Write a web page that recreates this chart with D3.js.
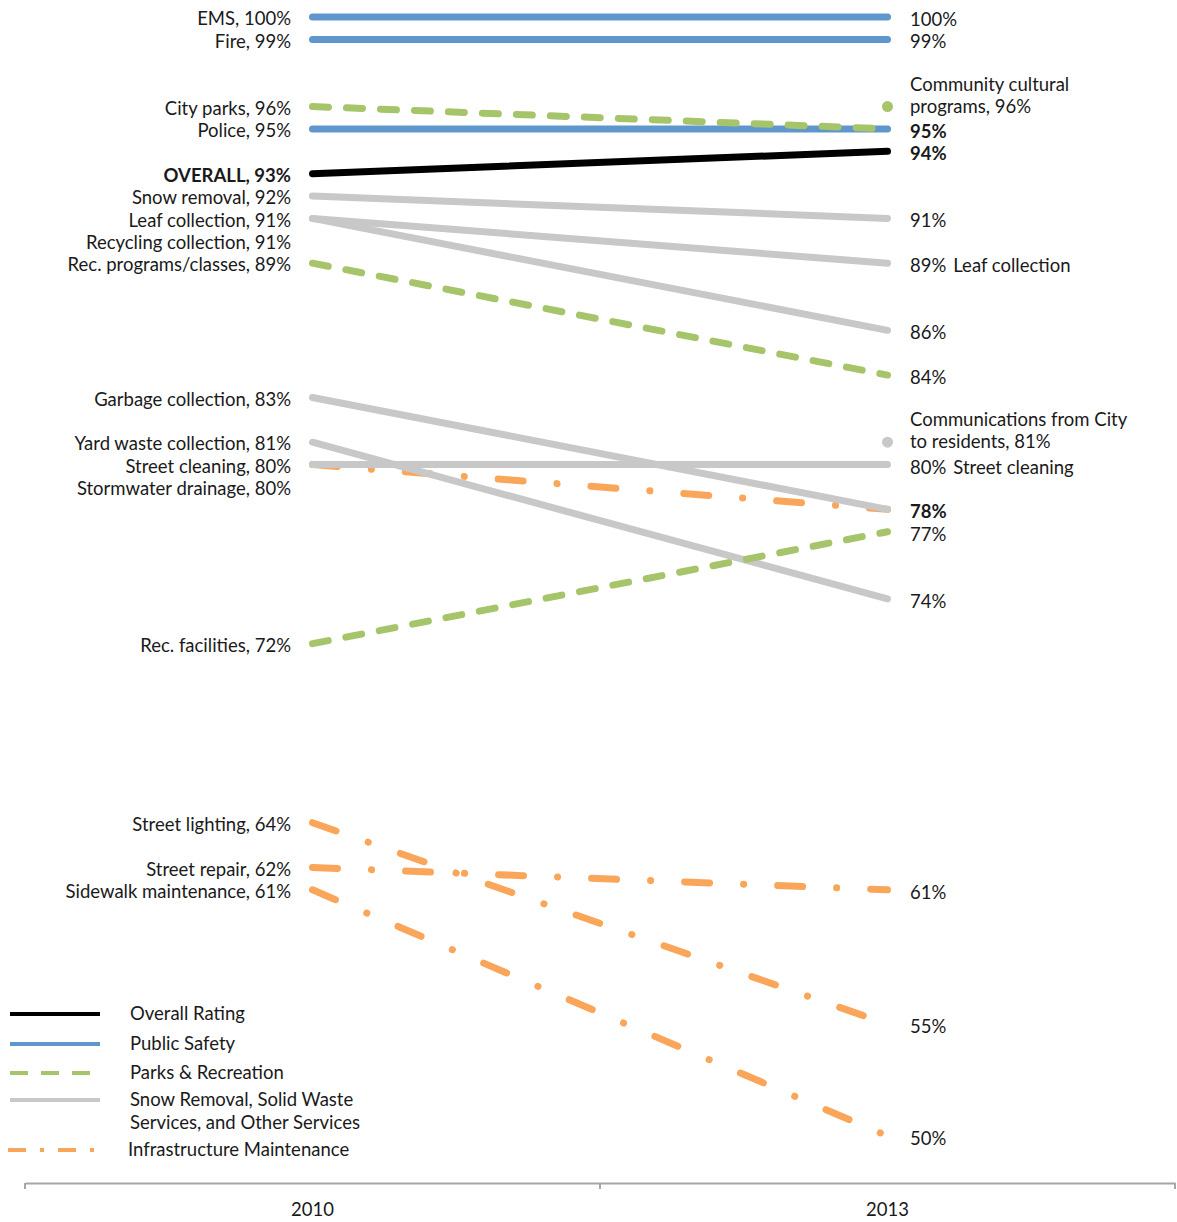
<!DOCTYPE html>
<html>
<head>
<meta charset="utf-8">
<script src="https://cdn.jsdelivr.net/npm/d3@7"></script>
<style>
  html, body { margin: 0; padding: 0; background: #fff; }
  svg { display: block; font-family: Lato, "Open Sans", sans-serif; }
  text { fill: #1a1a1a; font-size: 18.5px; }
</style>
</head>
<body>
<svg id="chart" width="1177" height="1222"></svg>
<script>
// ---------- data ----------
const years = ["2010", "2013"];

const services = ["EMS", "Fire", "Police", "OVERALL", "City parks", "Snow removal",
  "Leaf collection", "Recycling collection", "Rec. programs/classes",
  "Garbage collection", "Yard waste collection", "Street cleaning",
  "Stormwater drainage", "Rec. facilities", "Street lighting", "Street repair",
  "Sidewalk maintenance"];
const serviceGroups = ["safety", "safety", "safety", "overall", "parks", "other",
  "other", "other", "parks", "other", "other", "other", "infra", "parks",
  "infra", "infra", "infra"];
const values2010 = [100, 99, 95, 93, 96, 92, 91, 91, 89, 83, 81, 80, 80, 72, 64, 62, 61];
const values2013 = [100, 99, 95, 94, 95, 91, 89, 86, 84, 78, 74, 80, 78, 77, 55, 61, 50];

// services measured only in 2013
const newServiceLines = [["Community cultural", "programs, 96%"], ["Communications from City", "to residents, 81%"]];
const newServiceGroups = ["parks", "other"];
const newValues2013 = [96, 81];

// right-hand value labels (2013)
const rightValues = [100, 99, 95, 94, 91, 89, 86, 84, 80, 78, 77, 74, 61, 55, 50];
const rightNotes = ["", "", "", "", "", "Leaf collection", "", "", "Street cleaning", "", "", "", "", "", ""];
const rightBold = [95, 94, 78];

// legend
const groupKeys = ["overall", "safety", "parks", "other", "infra"];
const groupNames = [["Overall Rating"], ["Public Safety"], ["Parks & Recreation"],
  ["Snow Removal, Solid Waste", "Services, and Other Services"], ["Infrastructure Maintenance"]];

// ---------- styles ----------
const colors = { overall: "#000000", safety: "#5f96cb", parks: "#a6c46a", other: "#c8c8c8", infra: "#faa65a" };
const dashes = { overall: null, safety: null, parks: "16,18", other: null, infra: "25,34,0.1,34" };
const legendDashes = { overall: null, safety: null, parks: "18,13", other: null, infra: "18,14,4,14" };

const svg = d3.select("#chart");
const x = d3.scaleBand().domain(years).range([25, 1175]);
const xc = d => x(d) + x.bandwidth() / 2;
const y = d3.scaleLinear().domain([50, 100]).range([1136, 17]);

// ---------- lines ----------
const rows = services.map((s, i) => ({ name: s, group: serviceGroups[i], v0: values2010[i], v1: values2013[i], i }));
const drawOrder = ["infra", "other", "safety", "parks", "overall"];
const line = d3.line().x(d => xc(d[0])).y(d => y(d[1]));

drawOrder.forEach(g => {
  svg.append("g").selectAll("path")
    .data(rows.filter(r => r.group === g))
    .join("path")
    .attr("d", r => line([[years[0], r.v0], [years[1], r.v1]]))
    .attr("fill", "none")
    .attr("stroke", colors[g])
    .attr("stroke-width", 7)
    .attr("stroke-linecap", "round")
    .attr("stroke-dasharray", dashes[g]);
});

// single 2013 points
svg.append("g").selectAll("circle")
  .data(newValues2013.map((v, i) => ({ v, g: newServiceGroups[i] })))
  .join("circle")
  .attr("cx", xc(years[1]))
  .attr("cy", d => y(d.v))
  .attr("r", 5.5)
  .attr("fill", d => colors[d.g]);

// ---------- left labels ----------
const seen = {};
svg.append("g").selectAll("text")
  .data(rows)
  .join("text")
  .attr("x", 291)
  .attr("y", r => {
    const k = r.v0;
    const n = seen[k] || 0; seen[k] = n + 1;
    return y(r.v0) + 3.5 + n * 22;
  })
  .attr("text-anchor", "end")
  .attr("dominant-baseline", "middle")
  .style("font-weight", r => r.group === "overall" ? "bold" : "normal")
  .text(r => `${r.name}, ${r.v0}%`);

// ---------- right labels ----------
const rg = svg.append("g").selectAll("text")
  .data(rightValues.map((v, i) => ({ v, note: rightNotes[i] })))
  .join("text")
  .attr("x", 910)
  .attr("y", d => y(d.v) + 4)
  .attr("dominant-baseline", "middle")
  .style("font-weight", d => rightBold.includes(d.v) ? "bold" : "normal");
rg.append("tspan").text(d => d.v + "%");
rg.filter(d => d.note).append("tspan").attr("dx", 7).text(d => d.note);

// two-line labels for 2013-only services
svg.append("g").selectAll("text")
  .data(newServiceLines.map((l, i) => ({ l, v: newValues2013[i] })))
  .join("text")
  .attr("x", 910)
  .attr("y", d => y(d.v) - 21)
  .attr("dominant-baseline", "middle")
  .selectAll("tspan")
  .data(d => d.l)
  .join("tspan")
  .attr("x", 910)
  .attr("dy", (t, j) => j === 0 ? 0 : 22)
  .text(t => t);

// ---------- x axis ----------
const axisY = 1183;
const axisG = svg.append("g").attr("transform", `translate(0,${axisY})`)
  .call(d3.axisBottom(x).tickSize(0).tickPadding(20));
axisG.select(".domain").attr("stroke", "#a6a6a6").attr("stroke-width", 2);
axisG.selectAll(".tick text").style("font-size", "18.5px").style("font-family", "Lato, 'Open Sans', sans-serif").attr("fill", "#1a1a1a");
const boundaries = [x(years[0]), x(years[1]), x(years[1]) + x.bandwidth()];
axisG.append("g").selectAll("line")
  .data(boundaries)
  .join("line")
  .attr("x1", d => d).attr("x2", d => d)
  .attr("y1", 0).attr("y2", 6)
  .attr("stroke", "#a6a6a6").attr("stroke-width", 2);

// ---------- legend ----------
const legendY = [1014, 1044, 1073, 1100, 1150];
const lg = svg.append("g").selectAll("g")
  .data(groupKeys.map((k, i) => ({ k, names: groupNames[i], y: legendY[i] })))
  .join("g");
lg.append("line")
  .attr("x1", d => d.k === "infra" ? 8 : 10)
  .attr("x2", 100)
  .attr("y1", d => d.y).attr("y2", d => d.y)
  .attr("stroke", d => colors[d.k])
  .attr("stroke-width", 4)
  .attr("stroke-dasharray", d => legendDashes[d.k]);
lg.append("text")
  .attr("x", d => d.k === "infra" ? 128 : 130)
  .attr("y", d => d.y + 1)
  .attr("dominant-baseline", "middle")
  .selectAll("tspan")
  .data(d => d.names)
  .join("tspan")
  .attr("x", function() { return this.parentNode.getAttribute("x"); })
  .attr("dy", (t, j) => j === 0 ? 0 : 23)
  .text(t => t);
</script>
</body>
</html>
